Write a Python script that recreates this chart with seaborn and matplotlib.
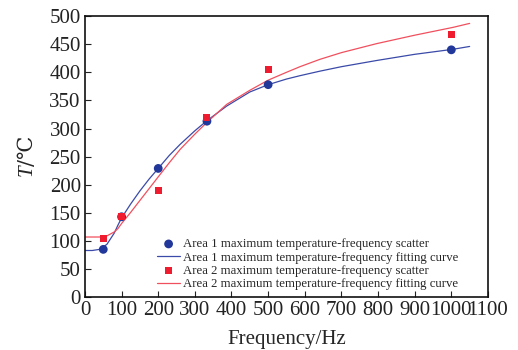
import pandas as pd
import seaborn as sns
import matplotlib.pyplot as plt

# measured points
freq = [50, 100, 200, 333, 500, 1000]
area1_temp = [85, 143, 229, 313, 378, 440]
area2_temp = [105, 144, 189, 320, 405, 468]

# fitting curves
fit_freq = [0, 20, 40, 60, 80, 90, 100, 125, 150, 175, 200, 230, 260, 300, 333,
            387, 450, 500, 550, 587, 641, 700, 796, 900, 1005, 1050]
area1_fit = [83, 83, 85, 94, 114, 128, 141, 166, 189, 210, 229, 252, 272, 296, 314,
             340, 365, 378, 388, 394, 402, 410, 421, 432, 441, 446]
area2_fit = [107, 107, 107, 109, 116, 122, 131, 151, 172, 193, 214, 239, 263, 290, 311,
             343, 368, 386, 400, 410, 423, 435, 451, 466, 480, 487]

x_ticks = list(range(0, 1101, 100))
y_ticks = list(range(0, 501, 50))

labels = ["Area 1 maximum temperature-frequency scatter",
          "Area 1 maximum temperature-frequency fitting curve",
          "Area 2 maximum temperature-frequency scatter",
          "Area 2 maximum temperature-frequency fitting curve"]

sns.set_style("ticks")
plt.rcParams['font.family'] = ['Liberation Serif', 'DejaVu Serif']
plt.rcParams['mathtext.fontset'] = 'custom'
plt.rcParams['mathtext.it'] = 'Liberation Serif:italic'
plt.rcParams['mathtext.rm'] = 'DejaVu Serif'

pts = pd.DataFrame({"f": freq, "a1": area1_temp, "a2": area2_temp})
fit = pd.DataFrame({"f": fit_freq, "a1": area1_fit, "a2": area2_fit})

fig = plt.figure(figsize=(5.18, 3.5), dpi=100)
ax = fig.add_axes([0.164, 0.151, 0.778, 0.803])

sns.scatterplot(data=pts, x="f", y="a1", ax=ax, marker="o", s=40, color="#22379a",
                edgecolor="none", label=labels[0], zorder=3)
sns.lineplot(data=fit, x="f", y="a1", ax=ax, color="#3a4aa8", lw=0.9,
             estimator=None, label=labels[1])
sns.scatterplot(data=pts, x="f", y="a2", ax=ax, marker="s", s=26, color="#ee1c2e",
                edgecolor="none", label=labels[2], zorder=3)
sns.lineplot(data=fit, x="f", y="a2", ax=ax, color="#f0505e", lw=0.9,
             estimator=None, label=labels[3])

ax.set_xlim(0, 1100)
ax.set_ylim(0, 500)
ax.set_xticks(x_ticks)
ax.set_yticks(y_ticks)
ax.tick_params(direction="in", length=4, width=0.8, labelsize=15, pad=3, colors="#222222")
for s in ax.spines.values():
    s.set_linewidth(1.2)
    s.set_color("#111111")

ax.set_xlabel("Frequency/Hz", fontsize=15, labelpad=7)
ax.set_ylabel(r"$\mathit{T}\mathrm{/℃}$", fontsize=15, labelpad=8)

ax.legend(loc="lower left", bbox_to_anchor=(0.179, 0.025), frameon=False, fontsize=9.2,
          handlelength=1.8, handletextpad=0.25, labelspacing=0.1, borderpad=0,
          borderaxespad=0)

plt.savefig("out.png", dpi=100)
